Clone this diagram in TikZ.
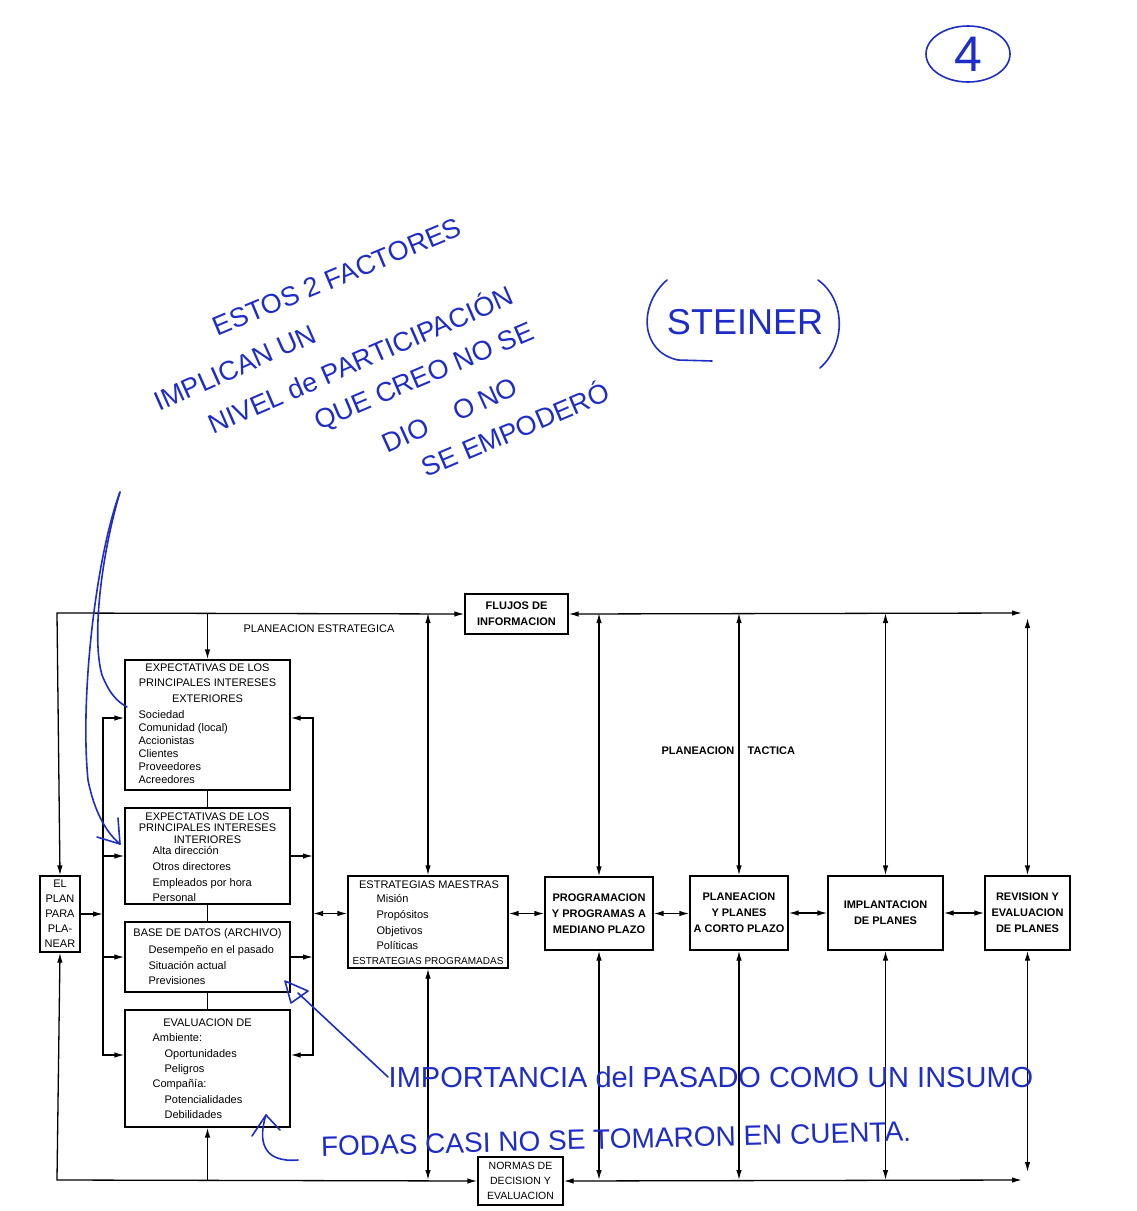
\documentclass[tikz,border=0pt]{standalone}
\usepackage{fontspec}
\setmainfont{Liberation Sans}
\newfontfamily\handfont{Liberation Sans}
\usetikzlibrary{arrows.meta}
\definecolor{penblue}{RGB}{30,44,200}
\begin{document}
\begin{tikzpicture}[x=1pt, y=-1pt, line width=1.3pt,
  >={Latex[length=10pt,width=5.5pt]},
  box/.style={draw, inner sep=0pt, align=center, font=\fontsize{11}{15}\selectfont},
  tbox/.style={box, font=\bfseries\fontsize{11}{16}\selectfont},
  ttl/.style={inner sep=0pt, align=center, anchor=north, font=\fontsize{11}{15.5}\selectfont},
  lst/.style={inner sep=0pt, align=left, anchor=north west, font=\fontsize{11}{13}\selectfont},
  lbl/.style={inner sep=0pt, font=\fontsize{11}{13}\selectfont},
  hand/.style={inner sep=0pt, text=penblue, font=\handfont\fontsize{27}{29}\selectfont},
  pen/.style={draw=penblue, line width=1.6pt, line cap=round, line join=round}]
\useasboundingbox (0,0) rectangle (1136,1211);
% frame corners and buses
\coordinate (tl) at (57,613); \coordinate (tr) at (1022,613);
\coordinate (bl) at (57,1180); \coordinate (br) at (1022,1180);
\coordinate (lbt) at (103,718); \coordinate (lbb) at (103,1055);
\coordinate (rbt) at (313,718); \coordinate (rbb) at (313,1055);

% left stack
\node[box, minimum width=165pt, minimum height=130pt] (ext) at (207.5,725) {};
\node[box, minimum width=165pt, minimum height=96pt] (int) at (207.5,856) {};
\node[box, minimum width=165pt, minimum height=70pt] (base) at (207.5,957) {};
\node[box, minimum width=165pt, minimum height=117pt] (eva) at (207.5,1068.5) {};
\node[ttl] (extt) at (207.5,663) {EXPECTATIVAS DE LOS\\PRINCIPALES INTERESES\\EXTERIORES};
\node[lst] (extl) at (138,710) {Sociedad\\Comunidad (local)\\Accionistas\\Clientes\\Proveedores\\Acreedores};
\node[ttl, font=\fontsize{11}{11.5}\selectfont] (intt) at (207.5,812) {EXPECTATIVAS DE LOS\\PRINCIPALES INTERESES\\INTERIORES};
\node[lst, font=\fontsize{11}{15.7}\selectfont] (intl) at (152,846) {Alta dirección\\Otros directores\\Empleados por hora\\Personal};
\node[ttl] (baset) at (207.5,928) {BASE DE DATOS (ARCHIVO)};
\node[lst, font=\fontsize{11}{15.5}\selectfont] (basel) at (148,945) {Desempeño en el pasado\\Situación actual\\Previsiones};
\node[ttl] (evat) at (207.5,1018) {EVALUACION DE};
\node[lst, font=\fontsize{11}{15.4}\selectfont] (eval) at (152,1033) {Ambiente:\\\hspace*{12pt}Oportunidades\\\hspace*{12pt}Peligros\\Compañía:\\\hspace*{12pt}Potencialidades\\\hspace*{12pt}Debilidades};
\node[box, minimum width=40pt, minimum height=76pt] (plan) at (60,914) {EL\\PLAN\\PARA\\PLA-\\NEAR};

% central row
\node[box, minimum width=160pt, minimum height=92pt] (estr) at (428,922) {};
\node[ttl] (estrt) at (429,880) {ESTRATEGIAS MAESTRAS};
\node[lst, font=\fontsize{11}{15.7}\selectfont] (estrl) at (376,894) {Misión\\Propósitos\\Objetivos\\Políticas};
\node[lbl, font=\fontsize{10}{12}\selectfont] (estrb) at (428,961) {ESTRATEGIAS PROGRAMADAS};
\node[tbox, minimum width=108pt, minimum height=73pt] (prog) at (599,913.5) {PROGRAMACION\\Y PROGRAMAS A\\MEDIANO PLAZO};
\node[tbox, minimum width=98pt, minimum height=74pt] (plc) at (739,913) {PLANEACION\\Y PLANES\\A CORTO PLAZO};
\node[tbox, minimum width=115pt, minimum height=74pt] (impl) at (885.5,913) {IMPLANTACION\\DE PLANES};
\node[tbox, minimum width=85pt, minimum height=74pt] (rev) at (1027.5,913) {REVISION Y\\EVALUACION\\DE PLANES};
\node[tbox, minimum width=103pt, minimum height=40pt] (flujos) at (516.5,614) {FLUJOS DE\\INFORMACION};
\node[box, minimum width=85pt, minimum height=48pt, font=\fontsize{10.5}{15}\selectfont] (normas) at (520.5,1181) {NORMAS DE\\DECISION Y\\EVALUACION};
\node[lbl] (pe) at (319,629) {PLANEACION ESTRATEGICA};
\node[lbl, anchor=east, font=\bfseries\fontsize{11}{13}\selectfont] (ptl) at (735,751) {PLANEACION};
\node[lbl, anchor=west, font=\bfseries\fontsize{11}{13}\selectfont] (ptr) at (747,751) {TACTICA};

% frame
\draw[<->] (plan.north) -- (tl) -- (flujos.west);
\draw[<->] (flujos.east) -- (tr);
\draw[<->] (plan.south) -- (bl) -- (normas.west);
\draw[<->] (normas.east) -- (br);
\draw[->] (ext.north |- tl) -- (ext.north);
\draw (ext) -- (int) (int) -- (base) (base) -- (eva);
\draw[->] (eva.south |- bl) -- (eva.south);
% buses
\draw[<->] (lbt -| ext.west) -- (lbt) -- (lbb) -- (lbb -| eva.west);
\draw[->] (int.west -| lbt) -- (int.west);
\draw[->] (base.west -| lbt) -- (base.west);
\draw[->] (plan.east) -- (plan.east -| lbt);
\draw[<->] (rbt -| ext.east) -- (rbt) -- (rbb) -- (rbb -| eva.east);
\draw[->] (int.east) -- (int.east -| rbt);
\draw[->] (base.east) -- (base.east -| rbt);
\draw[<->] (prog.west -| rbt) -- (prog.west -| estr.west);
% row links
\draw[<->] (prog.west -| estr.east) -- (prog.west);
\draw[<->] (prog.east) -- (prog.east -| plc.west);
\draw[<->] (plc.east) -- (impl.west);
\draw[<->] (impl.east) -- (rev.west);
% verticals
\draw[<->] (estr.north) -- (estr.north |- tl); \draw[<->] (estr.south) -- (estr.south |- bl);
\draw[<->] (prog.north) -- (prog.north |- tl); \draw[<->] (prog.south) -- (prog.south |- bl);
\draw[<->] (plc.north) -- (plc.north |- tl); \draw[<->] (plc.south) -- (plc.south |- bl);
\draw[<->] (impl.north) -- (impl.north |- tl); \draw[<->] (impl.south) -- (impl.south |- bl);
\draw[<->] (rev.north) -- ([yshift=-5pt]rev.north |- tl); \draw[<->] (rev.south) -- ([yshift=8pt]rev.south |- bl);

% handwritten notes
\node[hand, font=\handfont\fontsize{50}{50}\selectfont] (pg) at (968,54) {4};
\draw[pen] (pg) ellipse [x radius=42pt, y radius=28pt];
\node[hand, font=\handfont\fontsize{36}{40}\selectfont] (st) at (745,322) {STEINER};
\draw[pen] (667,280) .. controls (638,305) and (640,352) .. (678,360) -- (712,361);
\draw[pen] (818,280) .. controls (846,300) and (846,345) .. (820,368);
\node[hand, rotate=22.6] (h1) at (337,277) {ESTOS 2 FACTORES};
\node[hand, rotate=24] (h2) at (235,368) {IMPLICAN UN};
\node[hand, rotate=23.5] (h3) at (360,358) {NIVEL de PARTICIPACIÓN};
\node[hand, rotate=23] (h4) at (425,378) {QUE CREO NO SE};
\node[hand, rotate=24.5] (h5) at (450,415) {DIO\hspace{30pt}O\hspace{6pt}NO};
\node[hand, rotate=23] (h6) at (515,428) {SE EMPODERÓ};
\node[hand, font=\handfont\fontsize{29}{30}\selectfont] (h7) at (711,1077) {IMPORTANCIA del PASADO COMO UN INSUMO};
\node[hand, rotate=1.5, font=\handfont\fontsize{28}{30}\selectfont] (h8) at (616,1139) {FODAS CASI NO SE TOMARON EN CUENTA.};
\coordinate (nt) at (120,492);
\draw[pen] (nt) .. controls (95,560) and (80,700) .. (88,780) .. controls (95,815) and (108,834) .. (120,844);
\draw[pen] (97,837) -- (120,844) -- (118,818);
\draw[pen] (nt) .. controls (100,560) and (92,640) .. (102,675) .. controls (110,695) and (118,702) .. (127,707);
\draw[pen] (h7.west) -- (298,993);
\draw[pen] (285,981) -- (308,991) -- (291,1003) -- cycle;
\draw[pen] (298,1160) .. controls (262,1163) and (258,1140) .. (266,1115);
\draw[pen] (252,1136) -- (266,1115) -- (280,1130);
\end{tikzpicture}
\end{document}
